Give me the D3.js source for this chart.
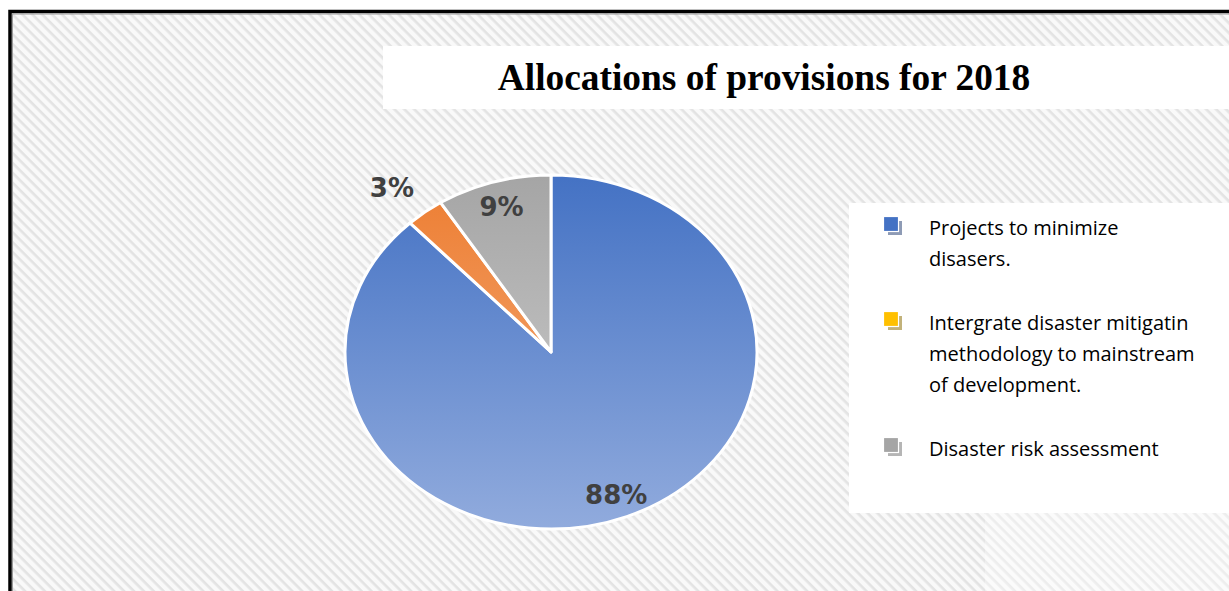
<!DOCTYPE html>
<html>
<head>
<meta charset="utf-8">
<script src="https://cdn.jsdelivr.net/npm/d3@7"></script>
<style>
  html, body { margin: 0; padding: 0; background: #ffffff; }
  svg { display: block; }
</style>
</head>
<body>
<svg id="chart" width="1229" height="591"></svg>
<script>
// Allocation shares (percent) for 2018; "\n" marks where a legend label breaks
const categories = [
  "Projects to minimize\ndisasers.",
  "Intergrate disaster mitigatin\nmethodology to mainstream\nof development.",
  "Disaster risk assessment"
];
const shares = [88, 3, 9];
const sliceTop = ["#4472c4", "#ed7d31", "#a5a5a5"];
const sliceBottom = ["#91abdd", "#f4b183", "#d2d2d2"];
const legendSwatch = ["#4472c4", "#ffc000", "#a5a5a5"];
const legendShadow = ["#8e9bb5", "#c2b27a", "#b5b5b5"];
const title = "Allocations of provisions for 2018";

const W = 1229, H = 591;
const svg = d3.select("#chart");
const defs = svg.append("defs");

// diagonal hatch background
const hatch = defs.append("pattern")
  .attr("id", "hatch")
  .attr("patternUnits", "userSpaceOnUse")
  .attr("width", 7).attr("height", 7)
  .attr("patternTransform", "rotate(45)");
hatch.append("rect").attr("width", 7).attr("height", 7).attr("fill", "#f9f9f9");
hatch.append("rect").attr("width", 7).attr("height", 2.6).attr("fill", "#e3e3e3");

svg.append("rect").attr("x", 0).attr("y", 0).attr("width", W).attr("height", H).attr("fill", "#ffffff");
svg.append("rect").attr("x", 12).attr("y", 13).attr("width", W - 12).attr("height", H - 13)
  .attr("fill", "url(#hatch)");

// soft lighter patch at lower right
svg.append("rect").attr("x", 985).attr("y", 513).attr("width", W - 985).attr("height", H - 513)
  .attr("fill", "#ffffff").attr("opacity", 0.35);

// frame
svg.append("path")
  .attr("d", `M10,${H} L10,11.5 L${W},11.5`)
  .attr("fill", "none").attr("stroke", "#000").attr("stroke-width", 3.5);
svg.append("path")
  .attr("d", `M12.5,${H} L12.5,14 L${W},14`)
  .attr("fill", "none").attr("stroke", "#9a9a9a").attr("stroke-width", 1);

// title box
svg.append("rect").attr("x", 383).attr("y", 46).attr("width", W - 383).attr("height", 63).attr("fill", "#ffffff");
svg.append("text")
  .attr("x", 764).attr("y", 90)
  .attr("text-anchor", "middle")
  .attr("font-family", "'Liberation Serif', 'Times New Roman', serif")
  .attr("font-weight", "bold")
  .attr("font-size", 37.4)
  .attr("fill", "#000")
  .text(title);

// pie (drawn slightly squashed vertically)
const cx = 551, cy = 352, rx = 206, ry = 177;
const pie = d3.pie().sort(null).value(d => d);
const arcs = pie(shares);
const arc = d3.arc().innerRadius(0).outerRadius(rx);

arcs.forEach((a, i) => {
  const g = defs.append("linearGradient")
    .attr("id", "grad" + i)
    .attr("gradientUnits", "userSpaceOnUse")
    .attr("x1", 0).attr("y1", -rx).attr("x2", 0).attr("y2", rx);
  g.append("stop").attr("offset", "0%").attr("stop-color", sliceTop[i]);
  g.append("stop").attr("offset", "100%").attr("stop-color", sliceBottom[i]);
});

const pieG = svg.append("g")
  .attr("transform", `translate(${cx},${cy}) scale(1,${ry / rx})`);

pieG.selectAll("path.slice")
  .data(arcs)
  .join("path")
  .attr("class", "slice")
  .attr("d", arc)
  .attr("fill", (d, i) => `url(#grad${i})`)
  .attr("stroke", "#ffffff")
  .attr("stroke-width", 3)
  .attr("stroke-linejoin", "round")
  .attr("vector-effect", "non-scaling-stroke");

// percentage labels; small slices get their label outside
svg.append("g").selectAll("text")
  .data(arcs)
  .join("text")
  .each(function (d) {
    const outside = d.data / d3.sum(shares) < 0.05;
    const fx = outside ? 1.26 : 0.86;
    const fy = outside ? 1.18 : 0.86;
    const mid = (d.startAngle + d.endAngle) / 2;
    d3.select(this)
      .attr("x", cx + Math.sin(mid) * rx * fx)
      .attr("y", cy - Math.cos(mid) * ry * fy + 10);
  })
  .attr("text-anchor", "middle")
  .attr("font-family", "'DejaVu Sans', Verdana, sans-serif")
  .attr("font-weight", "bold")
  .attr("font-size", 26)
  .attr("fill", "#404040")
  .text(d => Math.round(d.data / d3.sum(shares) * 100) + "%");

// legend box
svg.append("rect").attr("x", 849).attr("y", 203).attr("width", W - 849).attr("height", 310).attr("fill", "#ffffff");

const legendX = 929, lineH = 31, itemGap = 33;
const legend = svg.append("g");
let baseY = 235;
categories.forEach((name, i) => {
  const lines = name.split("\n");
  const t = legend.append("text")
    .attr("font-family", "'Open Sans', 'Liberation Sans', sans-serif")
    .attr("font-size", 20)
    .attr("fill", "#000");
  lines.forEach((ln, k) => {
    t.append("tspan").attr("x", legendX).attr("y", baseY + k * lineH).text(ln);
  });

  // swatch with offset shadow
  const sy = baseY - 18;
  legend.append("rect").attr("x", 888).attr("y", sy + 4).attr("width", 14).attr("height", 14)
    .attr("fill", legendShadow[i]);
  legend.append("rect").attr("x", 883.5).attr("y", sy - 0.5).attr("width", 15).attr("height", 15)
    .attr("fill", legendSwatch[i]).attr("stroke", "#ffffff").attr("stroke-width", 1.2);

  baseY += lines.length * lineH + itemGap;
});
</script>
</body>
</html>
